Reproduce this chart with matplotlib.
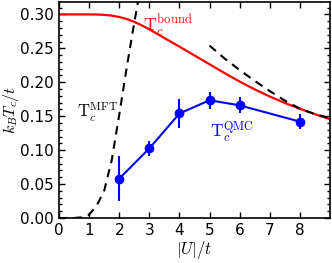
import numpy as np
import matplotlib
matplotlib.use("Agg")
import matplotlib.pyplot as plt
from matplotlib.ticker import MultipleLocator

plt.rcParams['font.family'] = ['DejaVu Sans']
plt.rcParams['mathtext.fontset'] = 'cm'

# T_c^bound (red)
u_bound = [0, 0.5, 1.0, 1.25, 1.5, 1.75, 2.0, 2.25, 2.5, 2.75, 3.0, 3.25, 3.5, 3.75, 4.0,
           4.5, 5.0, 5.5, 6.0, 6.5, 7.0, 7.5, 8.0, 8.5, 9.0]
t_bound = [0.300, 0.300, 0.300, 0.2998, 0.2993, 0.2982, 0.2962, 0.2932, 0.2890, 0.2838,
           0.2780, 0.2716, 0.2652, 0.2588, 0.2525, 0.2395, 0.2265, 0.2135, 0.2010,
           0.1895, 0.1790, 0.1695, 0.1610, 0.1530, 0.1455]

# T_c^MFT weak coupling (black dashed)
u_mft = [0.0, 0.5, 0.75, 1.0, 1.25, 1.5, 1.75, 2.0, 2.25, 2.5, 2.75]
t_mft = [0.0, 0.0, 0.001, 0.005, 0.018, 0.040, 0.085, 0.152, 0.222, 0.288, 0.35]

# strong coupling dashed branch
u_strong = [5.0, 5.5, 6.0, 6.5, 7.0, 7.5, 8.0, 8.5, 9.0]
t_strong = [0.254, 0.235, 0.218, 0.202, 0.187, 0.173, 0.161, 0.153, 0.147]

# QMC (blue)
u_qmc = [2, 3, 4, 5, 6, 8]
t_qmc = [0.058, 0.1025, 0.154, 0.1735, 0.166, 0.142]
err_qmc = [0.033, 0.011, 0.021, 0.0125, 0.012, 0.0115]

fig = plt.figure(figsize=(3.32, 2.63), dpi=100)
ax = fig.add_axes([59/332, 1 - 218/263, 271/332, 216.5/263])

ax.plot(u_bound, t_bound, color='red', lw=1.6)
ax.plot(u_mft, t_mft, color='black', lw=1.5, ls=(0, (4, 3)))
ax.plot(u_strong, t_strong, color='black', lw=1.5, ls=(0, (4, 3)))
ax.errorbar(u_qmc, t_qmc, yerr=err_qmc, color='blue', marker='o', ms=6, lw=1.5,
            elinewidth=1.5, capsize=0)

ax.set_xlim(0, 9)
ax.set_ylim(0, 0.319)
ax.set_xticks([0, 1, 2, 3, 4, 5, 6, 7, 8])
ax.yaxis.set_major_locator(MultipleLocator(0.05))
ax.yaxis.set_minor_locator(MultipleLocator(0.01))
ax.yaxis.set_major_formatter(matplotlib.ticker.FormatStrFormatter('%.2f'))
ax.tick_params(which='both', direction='in', top=True, right=True, labelsize=11)
ax.tick_params(which='major', length=4, width=1)
ax.tick_params(which='minor', length=2, width=1)
for s in ax.spines.values():
    s.set_linewidth(1.2)

ax.set_xlabel(r'$|U|/t$', fontsize=12, labelpad=1)
ax.set_ylabel(r'$k_BT_c/t$', fontsize=11.5)
ax.yaxis.set_label_coords(-0.142, 0.5)

ax.text(2.8, 0.275, r'$\mathrm{T}_c^{\mathrm{bound}}$', color='red', fontsize=13)
ax.text(0.6, 0.147, r'$\mathrm{T}_c^{\mathrm{MFT}}$', color='black', fontsize=12)
ax.text(5.0, 0.120, r'$\mathrm{T}_c^{\mathrm{QMC}}$', color='blue', fontsize=12.5)

fig.savefig('out.png', dpi=100)
